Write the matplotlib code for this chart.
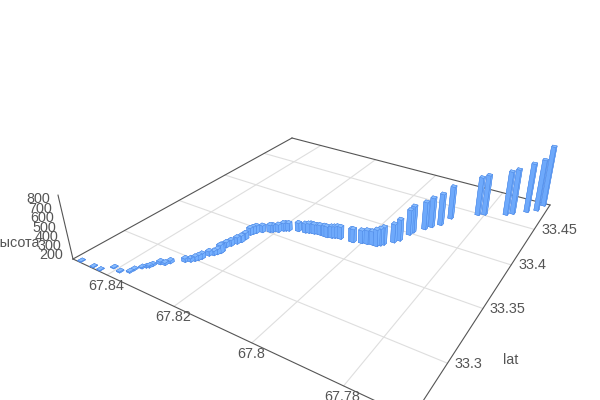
import numpy as np
import matplotlib
matplotlib.use('Agg')
import matplotlib.pyplot as plt
from mpl_toolkits.mplot3d import Axes3D  # noqa

plt.rcParams['font.family'] = ['Liberation Sans', 'DejaVu Sans']

lon_offset = [8493,8452,8430,8411,8388,8369,8368,8359,8353,8348,8346,8337,8326,8321,8297,8287,8281,8277,8274,8269,8261,8257,8254,8254,8259,8254,8248,8244,8244,8247,8244,8240,8230,8215,8210,8198,8191,8186,8180,8159,8141,8133,8128,8120,8114,8105,8092,8085,8074,8068,8062,8054,8025,8021,8002,7989,7977,7966,7960,7955,7939,7931,7923,7920,7902,7892,7877,7868,7816,7802,7755,7742,7714,7694,7686]
lat_offset = [262,262,262,268,267,270,273,277,279,280,282,286,287,290,296,298,300,302,304,309,311,313,315,316,322,325,329,332,336,342,344,346,349,352,353,355,358,359,360,363,364,365,366,366,367,367,367,367,368,369,370,370,371,371,373,374,375,375,377,379,385,389,399,403,411,416,422,434,449,452,460,464,472,478,488]
height = [156,156,156,158,160,162,162,162,162,168,168,180,174,180,188,188,196,202,206,200,198,207,241,238,209,216,224,225,224,232,233,236,229,233,233,238,242,242,242,249,258,262,262,261,256,265,276,276,284,284,287,291,298,302,298,309,306,340,344,352,361,394,440,458,471,496,518,534,604,627,671,685,734,763,868]

lon_ticks = [67.84, 67.82, 67.8, 67.78]
lon_labels = ['67.84', '67.82', '67.8', '67.78']
lat_ticks = [33.3, 33.35, 33.4, 33.45]
lat_labels = ['33.3', '33.35', '33.4', '33.45']
z_ticks = [200, 300, 400, 500, 600, 700, 800]

LON_MAX, LON_MIN = 67.8514, 67.7671
LAT_MIN, LAT_MAX = 33.2601, 33.4905
Z_MIN, Z_MAX = 150, 840

lon = 67 + np.array(lon_offset) / 1e4
lat = 33 + np.array(lat_offset) / 1e3
h = np.array(height, float)

W_PX, H_PX = 600, 400
corners = np.array([[73,259],[412,418],[550,205],[292,138]], float)
uv = np.array([[0,0],[1,0],[1,1],[0,1]], float)
A, b = [], []
for (u, v), (x, y) in zip(uv, corners):
    A.append([u,v,1,0,0,0,-u*x,-v*x]); b.append(x)
    A.append([0,0,0,u,v,1,-u*y,-v*y]); b.append(y)
H = np.append(np.linalg.solve(np.array(A), np.array(b)), 1).reshape(3, 3)
Zdir = -0.0553 * np.array([329, 1350, 1.0])
P = np.column_stack([H[:, 0], H[:, 1], Zdir, H[:, 2]])
D = np.array([[-1/(LON_MAX-LON_MIN), 0, 0, LON_MAX/(LON_MAX-LON_MIN)],
              [0, 1/(LAT_MAX-LAT_MIN), 0, -LAT_MIN/(LAT_MAX-LAT_MIN)],
              [0, 0, 1/(Z_MAX-Z_MIN), -Z_MIN/(Z_MAX-Z_MIN)],
              [0, 0, 0, 1]])
PD = P @ D

def pixel(lo, la, z):
    p = PD @ np.array([lo, la, z, 1.0])
    return p[0]/p[2], p[1]/p[2]

fig = plt.figure(figsize=(6, 4), dpi=100, facecolor='white')
ax = fig.add_axes([0, -0.25, 1, 1.5], projection='3d')
ax.set_axis_off()
ax.computed_zorder = False

def get_proj():
    vl = ax.viewLim
    sx = np.array([1/W_PX*vl.width, 0, vl.x0])
    sy = np.array([0, -1/600*vl.height, vl.y0 + 500/600*vl.height])
    R = np.array([sx, sy])
    top = R @ PD
    return np.vstack([top, [0, 0, 0, -1], PD[2]])
ax.get_proj = get_proj

GRID = '#dedede'; AXC = '#555555'; TXT = '#555555'
for lo in lon_ticks:
    ax.plot([lo, lo], [LAT_MIN, LAT_MAX], [Z_MIN, Z_MIN], color=GRID, lw=0.8, zorder=1)
for la in lat_ticks:
    ax.plot([LON_MIN, LON_MAX], [la, la], [Z_MIN, Z_MIN], color=GRID, lw=0.8, zorder=1)
for xs, ys in [((LON_MAX, LON_MIN), (LAT_MIN, LAT_MIN)), ((LON_MAX, LON_MAX), (LAT_MIN, LAT_MAX)),
               ((LON_MAX, LON_MIN), (LAT_MAX, LAT_MAX)), ((LON_MIN, LON_MIN), (LAT_MIN, LAT_MAX))]:
    ax.plot(xs, ys, [Z_MIN, Z_MIN], color=AXC, lw=0.8, zorder=2)
ax.plot([LON_MAX, LON_MAX], [LAT_MIN, LAT_MIN], [Z_MIN, Z_MAX], color=AXC, lw=0.8, zorder=2)

dx, dy = 0.0011, 0.0032
n = len(h)
face = ['#5a96ee', '#86bbff', '#6ea9fb', '#6ea9fb', '#74b0ff', '#74b0ff']
ax.bar3d(lon - dx/2, lat - dy/2, np.full(n, Z_MIN), np.full(n, dx), np.full(n, dy), h - Z_MIN,
         color=face * n, shade=False, edgecolor='#4c88e6', linewidth=0.3, zorder=3)

def label(px, py, s, size=10.4, **kw):
    fig.text(px/W_PX, 1 - py/H_PX, s, color=TXT, fontsize=size, va='center', **kw)

for lo, s in zip(lon_ticks, lon_labels):
    x, y = pixel(lo, LAT_MIN, Z_MIN)
    label(x - 1, y + 11, s, ha='center')
for la, s in zip(lat_ticks, lat_labels):
    x, y = pixel(LON_MIN, la, Z_MIN)
    label(x + 7, y + 0.5, s, ha='left')
for z in z_ticks:
    x, y = pixel(LON_MAX, LAT_MIN, z)
    label(x - 9, y, str(z), ha='right')
label(511, 360, 'lat', ha='center')
label(16, 243, 'высота', ha='center')

fig.savefig('out.png', dpi=100, facecolor='white')
